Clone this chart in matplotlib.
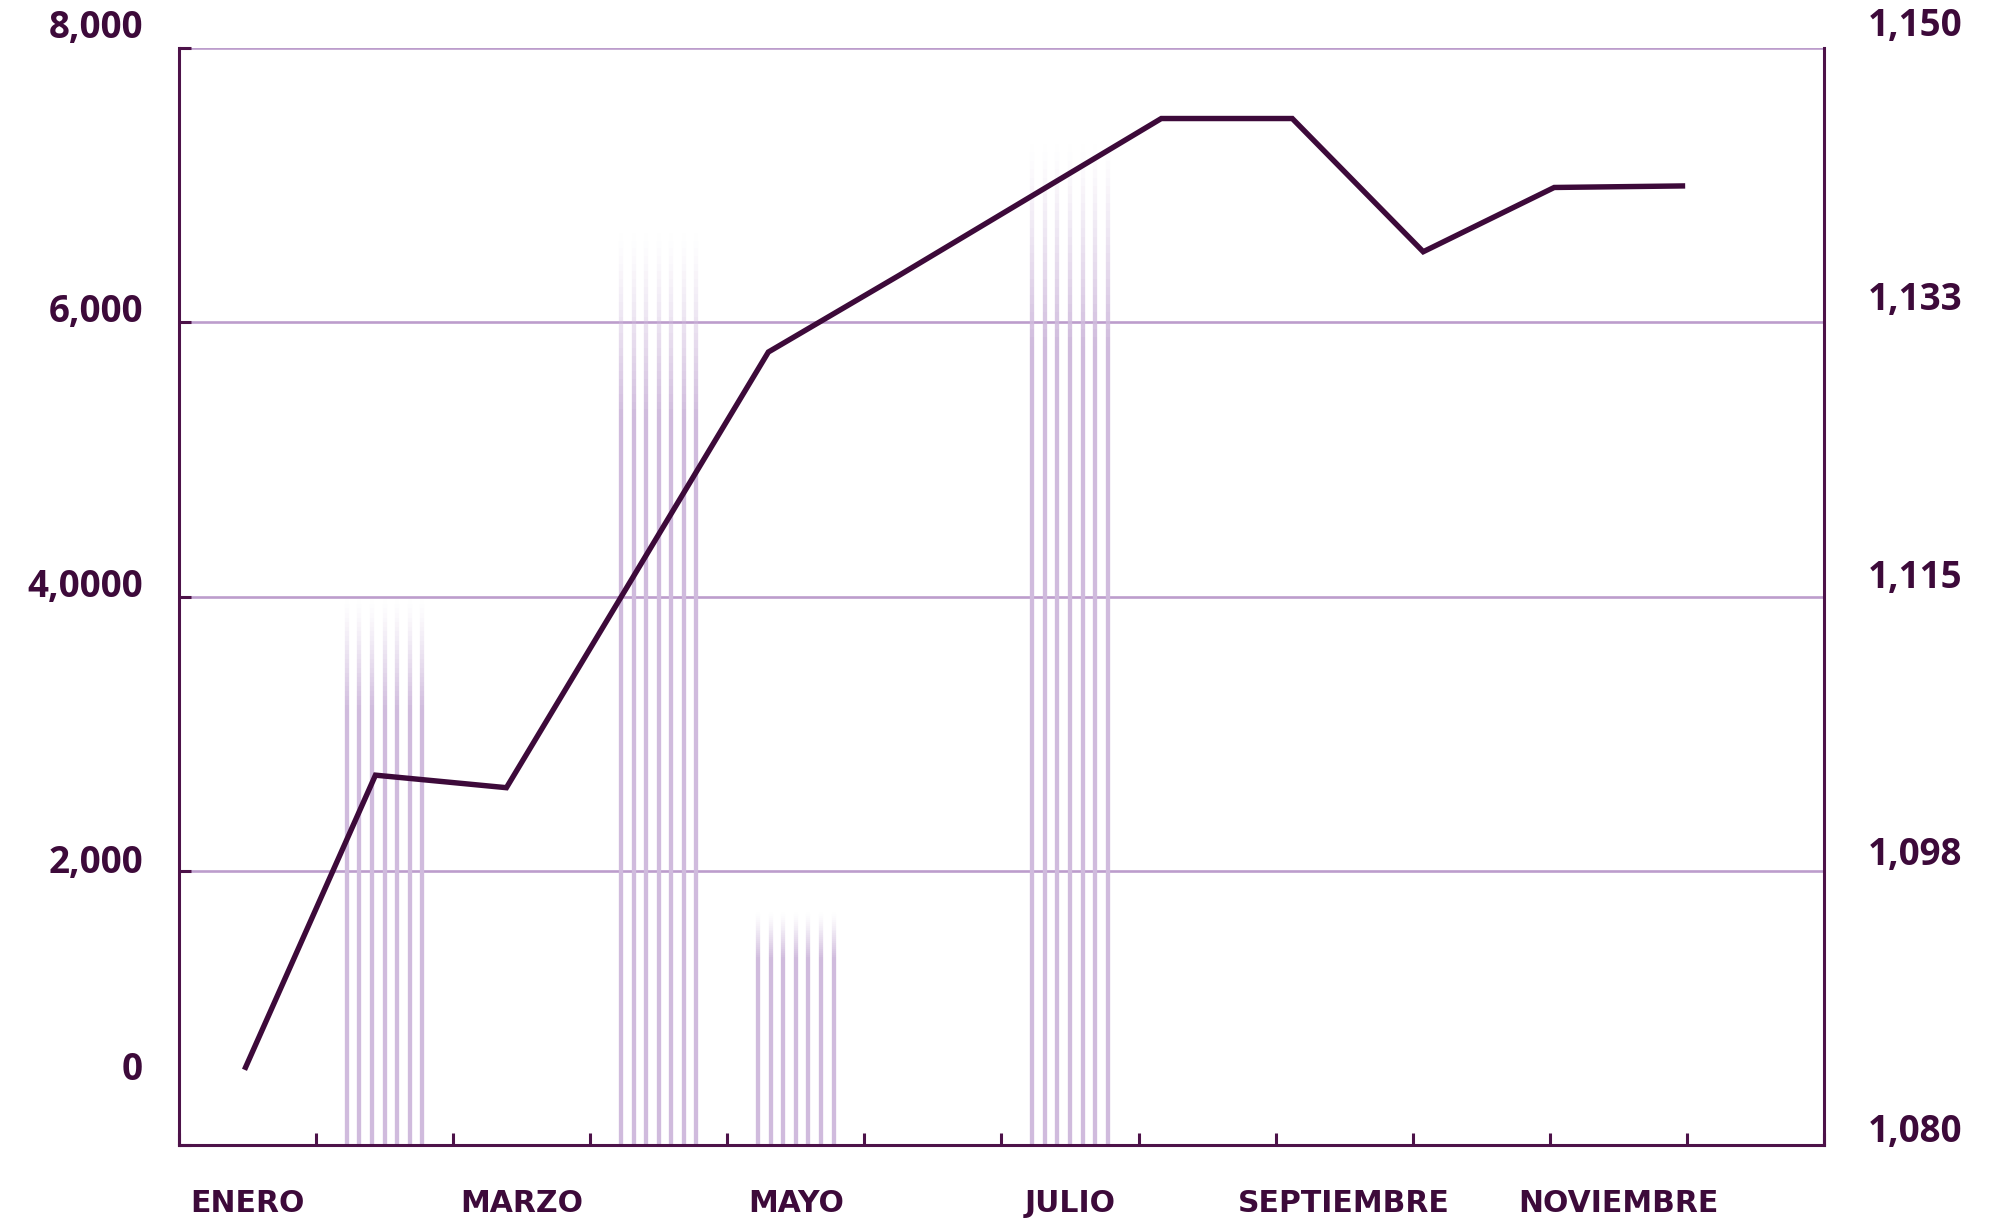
import matplotlib
matplotlib.use("Agg")
import matplotlib.pyplot as plt
import numpy as np
from matplotlib.collections import LineCollection

# ---- data ----
MONTHS = ["ENERO", "FEBRERO", "MARZO", "ABRIL", "MAYO", "JUNIO",
          "JULIO", "AGOSTO", "SEPTIEMBRE", "OCTUBRE", "NOVIEMBRE", "DICIEMBRE"]
BAR_VALUES = [0, 3980, 0, 6650, 1700, 0, 7300, 0, 0, 0, 0, 0]
LINE_VALUES = [1084.8, 1103.6, 1102.8, 1116.7, 1130.6, 1135.5,
               1140.5, 1145.5, 1145.5, 1137.0, 1141.1, 1141.2]
LEFT_TICKS = [0, 2000, 4000, 6000, 8000]
LEFT_LABELS = ["0", "2,000", "4,0000", "6,000", "8,000"]
RIGHT_TICKS = [1080, 1097.5, 1115, 1132.5, 1150]
RIGHT_LABELS = ["1,080", "1,098", "1,115", "1,133", "1,150"]

DARK = "#3d0a3a"
SPINE = "#4d1249"
GRID = "#bc9dcc"
BAR = "#d0bbdd"

W, H = 2002, 1221
fig = plt.figure(figsize=(W / 100, H / 100), dpi=100)
pos = [179 / W, (H - 1145) / H, (1824 - 179) / W, (1145 - 48) / H]
ax = fig.add_axes(pos)

ax.set_xlim(0, 12)
ax.set_ylim(0, 8000)

# gridlines (not at the bottom)
for v in LEFT_TICKS[1:]:
    ax.axhline(v, color=GRID, lw=1.9, zorder=1)

# bars: 7 thin lines per month, fading toward the top
n_lines = 7
offsets = np.linspace(-0.275, 0.275, n_lines)
fade = 0.2
segs, cols = [], []
base_rgb = matplotlib.colors.to_rgb(BAR)
for i, h in enumerate(BAR_VALUES):
    if h <= 0:
        continue
    ys = np.linspace(0, h, 120)
    for off in offsets:
        x = i + 0.5 + off
        for y0, y1 in zip(ys[:-1], ys[1:]):
            ym = 0.5 * (y0 + y1)
            a = min(1.0, (h - ym) / (fade * h)) ** 1.3
            segs.append([(x, y0), (x, y1)])
            cols.append((*base_rgb, a))
lc = LineCollection(segs, colors=cols, linewidths=3.1, capstyle="butt", zorder=2)
ax.add_collection(lc)

ax.spines["top"].set_visible(False)
for s in ["left", "right", "bottom"]:
    ax.spines[s].set_color(SPINE)
    ax.spines[s].set_linewidth(2.2)
    ax.spines[s].set_zorder(5)

ax.set_xticks(np.arange(0, 13))
ax.set_xticklabels([])
ax.set_yticks(LEFT_TICKS)
ax.set_yticklabels([])
ax.tick_params(axis="both", direction="in", length=12 / 1.389, width=2.2,
               color=SPINE, right=False, top=False)

# left labels
left_up = [75, 8, 10, 10, 20]
for v, lab, up in zip(LEFT_TICKS, LEFT_LABELS, left_up):
    ax.annotate(lab, xy=(0, v), xycoords=("axes fraction", "data"),
                xytext=(-36, up), textcoords="offset pixels",
                ha="right", va="center", fontsize=26.5, fontweight="bold",
                family="Open Sans", color=DARK, annotation_clip=False)

# month labels (every other month)
for i, m in enumerate(MONTHS):
    if i % 2:
        continue
    ax.annotate(m, xy=(i + 0.5, 0), xycoords=("data", "axes fraction"),
                xytext=(0, -58), textcoords="offset pixels",
                ha="center", va="center", fontsize=21.5, fontweight="bold",
                family="DejaVu Sans", color=DARK, annotation_clip=False)

# line on its own axes
ax2 = fig.add_axes(pos)
ax2.patch.set_visible(False)
ax2.set_xlim(-0.5, 12.06)
ax2.set_ylim(1080, 1150)
ax2.axis("off")
ax2.plot(np.arange(len(LINE_VALUES)), LINE_VALUES, color=DARK, lw=3.9,
         solid_joinstyle="miter", solid_capstyle="butt", zorder=6)

right_up = [13, 16, 19, 22, 22.5]
for v, lab, up in zip(RIGHT_TICKS, RIGHT_LABELS, right_up):
    ax2.annotate(lab, xy=(1, v), xycoords=("axes fraction", "data"),
                 xytext=(44, up), textcoords="offset pixels",
                 ha="left", va="center", fontsize=26.5, fontweight="bold",
                 family="Open Sans", color=DARK, annotation_clip=False)

fig.savefig("out.png", dpi=100)
